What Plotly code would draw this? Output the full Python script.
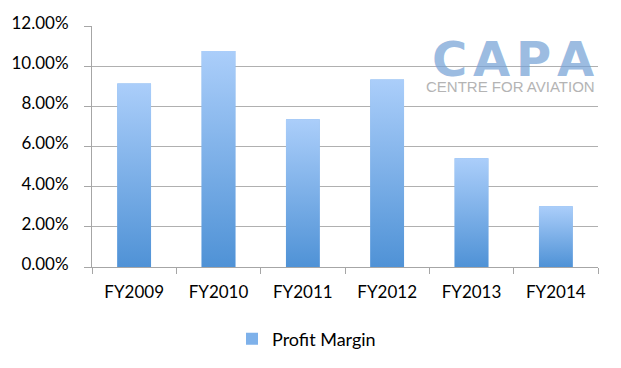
import plotly.graph_objects as go

categories = ["FY2009", "FY2010", "FY2011", "FY2012", "FY2013", "FY2014"]
profit_margin = [0.0914, 0.1076, 0.0736, 0.0934, 0.0541, 0.0303]
series_name = "Profit Margin"
y_tick_values = [0, 0.02, 0.04, 0.06, 0.08, 0.10, 0.12]

BAR_W = 0.4
TOP = "#abcefa"
BOTTOM = "#4f92d6"
FONT = "Lato"

fig = go.Figure()

# real bar trace (base + legend)
fig.add_trace(go.Bar(
    x=categories, y=profit_margin, name=series_name,
    width=BAR_W, marker=dict(color="#7eb1ea", line=dict(width=0)),
    showlegend=True,
))

# vertical gradient overlay, one shape per bar, positioned by category index
for i, v in enumerate(profit_margin):
    x0, x1 = i - BAR_W / 2, i + BAR_W / 2
    fig.add_trace(go.Scatter(
        x=[x0, x1, x1, x0, x0], y=[0, 0, v, v, 0],
        xaxis="x2", yaxis="y", mode="lines", fill="toself",
        line=dict(width=0),
        fillgradient=dict(type="vertical",
                          colorscale=[[0, BOTTOM], [1, TOP]]),
        hoverinfo="skip", showlegend=False,
    ))

fig.update_layout(
    width=621, height=368,
    margin=dict(l=88, r=23, t=23, b=101),
    paper_bgcolor="white", plot_bgcolor="white",
    font=dict(family=FONT, size=17, color="#000000"),
    bargap=0.6,
    xaxis=dict(
        type="category", tickson="boundaries", ticks="outside", ticklen=6,
        tickcolor="#a6a6a6", showline=True, linecolor="#a6a6a6", linewidth=1,
        showgrid=False, range=[-0.5, 5.5], tickfont=dict(size=17),
        ticklabelstandoff=10,
    ),
    xaxis2=dict(overlaying="x", range=[-0.5, 5.5], visible=False,
                fixedrange=True),
    yaxis=dict(
        range=[0, 0.12], tickvals=y_tick_values, tickformat=".2%",
        ticks="outside", ticklen=7, tickcolor="#a6a6a6",
        showline=True, linecolor="#a6a6a6", linewidth=1,
        showgrid=True, gridcolor="#b0b0b0", gridwidth=1,
        zeroline=False, tickfont=dict(size=17),
        ticklabelstandoff=12, ticklabelshift=-3,
    ),
    legend=dict(
        orientation="h", xref="container", yref="container",
        x=232 / 621, xanchor="left", y=1 - 339 / 368, yanchor="middle",
        font=dict(size=18), bgcolor="rgba(0,0,0,0)",
    ),
)

# CAPA watermark logo
logo_color = "rgba(118,162,214,0.72)"
letters = ["C", "A", "P", "A"]
centers = [448, 491, 533, 575]
for ch, cx in zip(letters, centers):
    fig.add_annotation(
        text=ch, xref="paper", yref="paper",
        x=(cx - 88) / 510, y=1 - (56 - 23) / 244,
        xanchor="center", yanchor="middle", showarrow=False,
        font=dict(family="DejaVu Sans", size=48, color=logo_color, weight="bold"),
    )
fig.add_annotation(
    text="CENTRE FOR AVIATION", xref="paper", yref="paper",
    x=(510 - 88) / 510, y=1 - (84 - 23) / 244,
    xanchor="center", yanchor="middle", showarrow=False,
    font=dict(family="Liberation Sans", size=15, color="#b4b4b4"),
)

fig.write_html("out.html", post_script="document.body.style.margin='0';",
               config={"displayModeBar": False})
